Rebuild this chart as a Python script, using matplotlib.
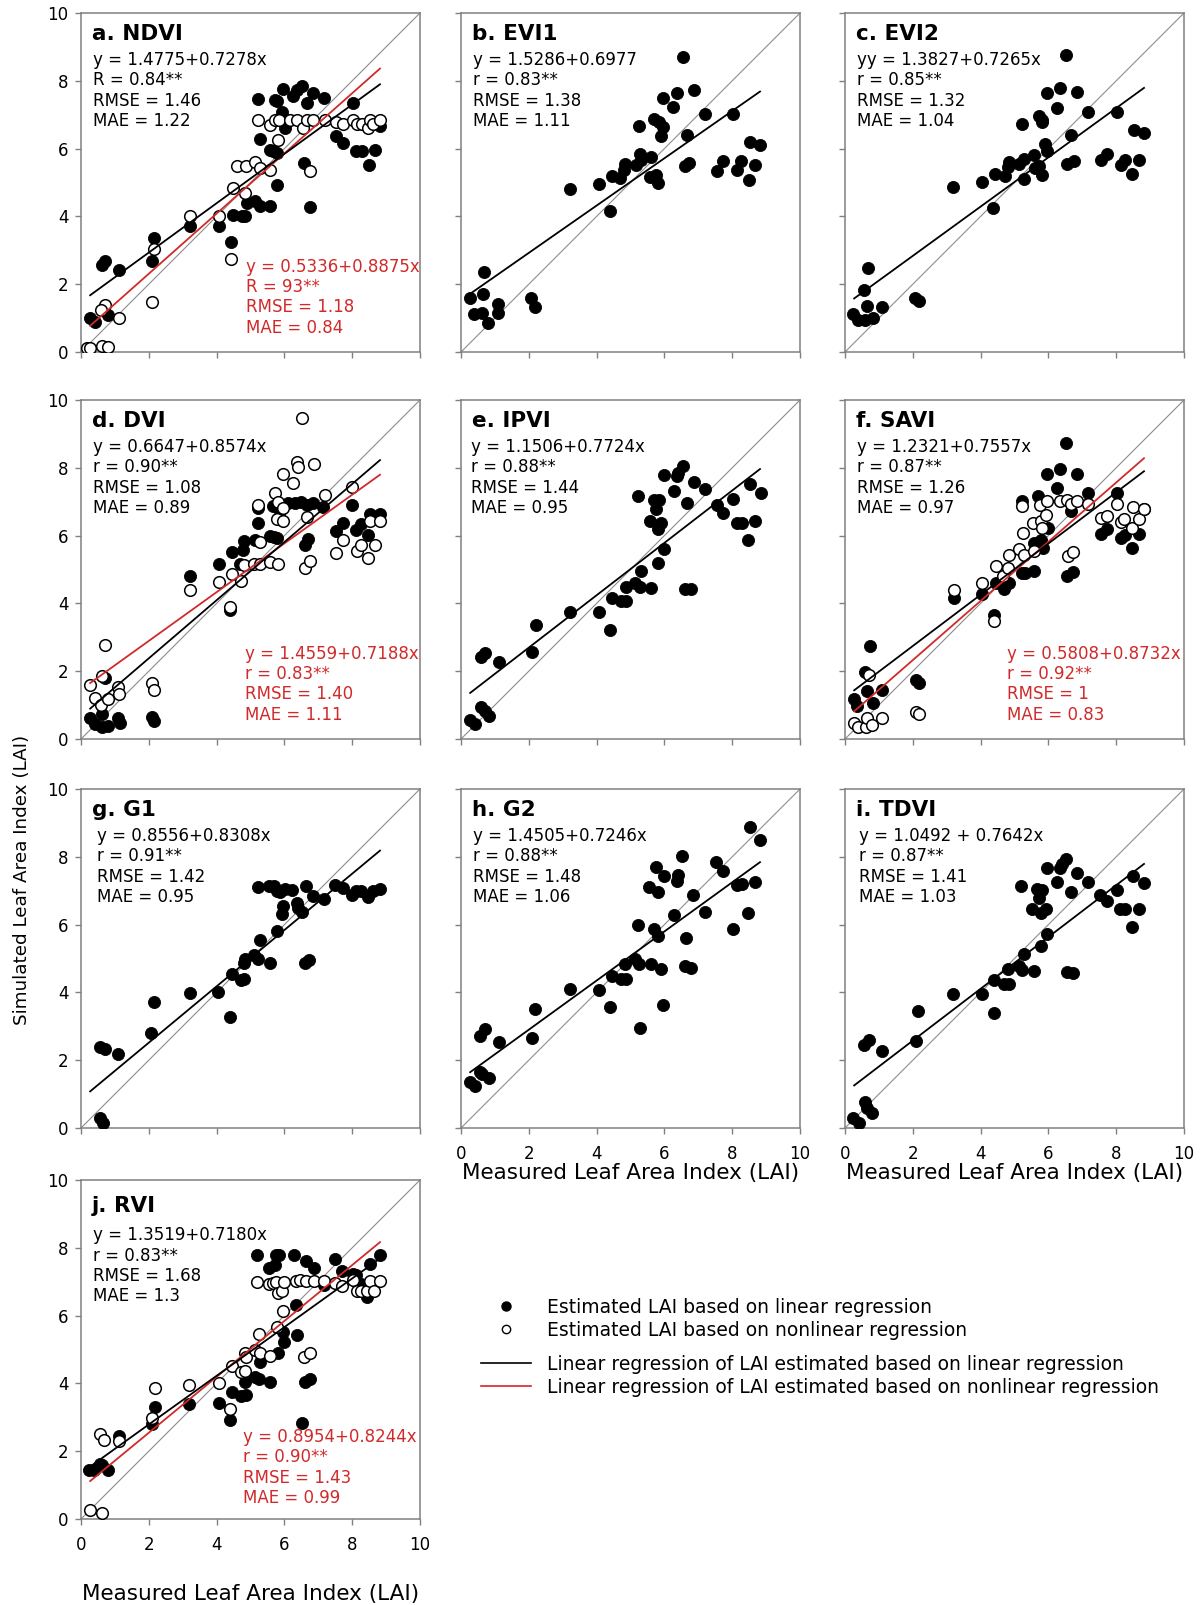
import numpy as np
import matplotlib.pyplot as plt
from matplotlib.lines import Line2D

plt.rcParams['font.family'] = 'DejaVu Sans'

# panel titles and regression statistics
titles = ['a. NDVI', 'b. EVI1', 'c. EVI2', 'd. DVI', 'e. IPVI', 'f. SAVI',
          'g. G1', 'h. G2', 'i. TDVI', 'j. RVI']

lin_icpt = [1.4775, 1.5286, 1.3827, 0.6647, 1.1506, 1.2321, 0.8556, 1.4505, 1.0492, 1.3519]
lin_slope = [0.7278, 0.6977, 0.7265, 0.8574, 0.7724, 0.7557, 0.8308, 0.7246, 0.7642, 0.7180]
lin_text = [
    ['y = 1.4775+0.7278x', 'R = 0.84**', 'RMSE = 1.46', 'MAE = 1.22'],
    ['y = 1.5286+0.6977', 'r = 0.83**', 'RMSE = 1.38', 'MAE = 1.11'],
    ['yy = 1.3827+0.7265x', 'r = 0.85**', 'RMSE = 1.32', 'MAE = 1.04'],
    ['y = 0.6647+0.8574x', 'r = 0.90**', 'RMSE = 1.08', 'MAE = 0.89'],
    ['y = 1.1506+0.7724x', 'r = 0.88**', 'RMSE = 1.44', 'MAE = 0.95'],
    ['y = 1.2321+0.7557x', 'r = 0.87**', 'RMSE = 1.26', 'MAE = 0.97'],
    ['y = 0.8556+0.8308x', 'r = 0.91**', 'RMSE = 1.42', 'MAE = 0.95'],
    ['y = 1.4505+0.7246x', 'r = 0.88**', 'RMSE = 1.48', 'MAE = 1.06'],
    ['y = 1.0492 + 0.7642x', 'r = 0.87**', 'RMSE = 1.41', 'MAE = 1.03'],
    ['y = 1.3519+0.7180x', 'r = 0.83**', 'RMSE = 1.68', 'MAE = 1.3'],
]
# nonlinear (red) regressions only for a, d, f, j
nl_icpt = {0: 0.5336, 3: 1.4559, 5: 0.5808, 9: 0.8954}
nl_slope = {0: 0.8875, 3: 0.7188, 5: 0.8732, 9: 0.8244}
nl_text = {
    0: ['y = 0.5336+0.8875x', 'R = 93**', 'RMSE = 1.18', 'MAE = 0.84'],
    3: ['y = 1.4559+0.7188x', 'r = 0.83**', 'RMSE = 1.40', 'MAE = 1.11'],
    5: ['y = 0.5808+0.8732x', 'r = 0.92**', 'RMSE = 1', 'MAE = 0.83'],
    9: ['y = 0.8954+0.8244x', 'r = 0.90**', 'RMSE = 1.43', 'MAE = 0.99'],
}
fit_range = [0.27, 8.82]

# (measured, simulated) pairs
ndvi_lin = [(0.27,1.00),(0.41,0.88),(0.61,2.58),(0.71,2.67),(0.81,1.10),(1.12,2.41),(2.08,2.67),(2.16,3.36),
            (3.21,3.71),(4.06,3.71),(4.42,3.24),(4.47,4.05),(4.74,4.00),(4.84,4.00),(4.89,4.40),(5.14,4.44),
            (5.28,4.32),(5.57,4.30),(5.23,7.46),(5.28,6.28),(5.57,5.97),(5.67,5.92),(5.72,7.44),(5.79,7.39),
            (5.79,4.94),(5.97,7.76),(5.92,7.07),(6.02,6.61),(5.77,5.87),(6.24,7.54),(6.36,7.74),(6.51,7.86),
            (6.59,5.58),(6.76,4.28),(6.66,7.35),(6.85,7.64),(7.17,7.49),(7.52,6.36),(7.74,6.17),(8.02,7.35),
            (8.11,5.92),(8.28,5.92),(8.51,5.51),(8.67,5.97),(8.82,6.66)]
ndvi_nl = [(0.17,0.12),(0.27,0.12),(0.61,0.17),(0.81,0.15),(0.71,1.40),(0.59,1.25),(1.12,1.00),(2.08,1.47),
           (2.16,3.04),(3.21,4.02),(4.06,4.02),(4.42,2.74),(4.47,4.84),(4.84,4.69),(4.59,5.48),(4.87,5.48),
           (5.14,5.60),(5.28,5.43),(5.57,5.38),(5.82,6.24),(5.23,6.83),(5.57,6.71),(5.72,6.83),(5.85,6.83),
           (6.17,6.85),(6.36,6.85),(6.56,6.61),(6.66,6.83),(6.76,5.35),(6.85,6.83),(7.20,6.83),(7.52,6.77),
           (7.74,6.74),(8.01,6.85),(8.13,6.74),(8.28,6.74),(8.48,6.61),(8.53,6.85),(8.62,6.74),(8.82,6.83)]
evi1_lin = [(0.27,1.60),(0.39,1.11),(0.61,1.16),(0.66,1.70),(0.69,2.37),(0.81,0.86),(1.08,1.42),(1.10,1.14),
            (2.06,1.60),(2.17,1.34),(3.22,4.81),(4.06,4.96),(4.41,4.17),(4.46,5.18),(4.70,5.13),(4.80,5.36),
            (4.85,5.55),(5.15,5.52),(5.25,6.66),(5.28,5.85),(5.30,5.65),(5.60,5.75),(5.57,5.16),(5.74,5.21),
            (5.81,4.98),(5.69,6.87),(5.84,6.79),(5.97,6.64),(5.91,6.36),(5.97,7.50),(6.26,7.23),(6.36,7.65),
            (6.55,8.70),(6.68,6.41),(6.61,5.48),(6.73,5.58),(6.87,7.73),(7.19,7.02),(7.54,5.34),(7.74,5.63),
            (8.03,7.02),(8.13,5.38),(8.25,5.63),(8.50,5.08),(8.53,6.20),(8.67,5.53),(8.83,6.10)]
evi2_lin = [(0.25,1.13),(0.37,0.94),(0.59,0.94),(0.64,1.36),(0.57,1.82),(0.69,2.48),(0.82,1.00),(1.08,1.33),
            (2.07,1.60),(2.17,1.50),(3.20,4.88),(4.04,5.02),(4.38,4.26),(4.43,5.25),(4.71,5.19),(4.83,5.60),
            (4.81,5.45),(5.12,5.55),(5.22,6.72),(5.27,5.69),(5.29,5.09),(5.57,5.81),(5.60,5.42),(5.73,5.49),
            (5.81,5.22),(5.71,6.95),(5.81,6.85),(5.81,6.77),(5.91,6.13),(5.96,5.93),(5.96,7.64),(6.24,7.21),
            (6.35,7.80),(6.52,8.75),(6.67,6.40),(6.55,5.55),(6.75,5.64),(6.85,7.68),(7.17,7.07),(7.54,5.65),
            (7.73,5.84),(8.01,7.09),(8.13,5.52),(8.25,5.67),(8.47,5.24),(8.52,6.55),(8.67,5.65),(8.82,6.45)]
dvi_lin = [(0.27,0.62),(0.41,0.44),(0.61,0.34),(0.61,0.74),(0.71,1.79),(0.81,0.39),(1.10,0.61),(1.15,0.46),
           (2.08,0.64),(2.16,0.54),(3.22,4.81),(4.06,5.15),(4.40,3.82),(4.44,5.52),(4.77,5.57),(4.81,5.84),
           (4.69,5.15),(5.13,5.86),(5.23,6.38),(5.23,6.80),(5.58,5.99),(5.67,6.88),(5.79,5.93),(5.87,6.72),
           (6.10,6.95),(6.31,6.95),(6.48,7.00),(6.66,6.90),(6.71,5.89),(6.61,5.71),(6.85,6.95),(7.15,6.85),
           (7.52,6.14),(7.72,6.38),(8.00,6.90),(8.11,6.16),(8.26,6.33),(8.46,6.01),(8.53,6.65),(8.82,6.65),
           (5.70,5.95)]
dvi_nl = [(0.27,1.58),(0.41,1.20),(0.58,1.00),(0.61,1.87),(0.71,2.78),(0.81,1.18),(1.10,1.53),(1.13,1.33),
          (2.08,1.65),(2.16,1.46),(3.22,4.41),(4.06,4.63),(4.40,3.89),(4.46,4.88),(4.72,4.65),(4.81,5.12),
          (5.11,5.17),(5.23,6.90),(5.28,5.81),(5.28,5.15),(5.58,5.22),(5.71,7.26),(5.82,6.98),(5.79,6.50),
          (5.80,5.17),(5.95,6.42),(5.97,7.83),(5.97,6.80),(6.24,7.56),(6.36,8.18),(6.39,8.03),(6.51,9.48),
          (6.61,5.04),(6.66,6.55),(6.76,5.25),(6.87,8.10),(7.20,7.21),(7.52,5.50),(7.74,5.86),(8.00,7.44),
          (8.13,5.55),(8.26,5.71),(8.48,5.34),(8.53,6.42),(8.67,5.71),(8.82,6.42)]
ipvi_lin = [(0.28,0.56),(0.42,0.44),(0.60,0.94),(0.70,0.84),(0.82,0.68),(0.60,2.41),(0.72,2.53),(1.11,2.26),
            (2.10,2.56),(2.20,3.35),(3.23,3.76),(4.07,3.76),(4.41,3.22),(4.46,4.16),(4.71,4.06),(4.86,4.06),
            (4.86,4.47),(5.13,4.60),(5.28,4.48),(5.60,4.45),(5.30,4.95),(5.23,7.16),(5.69,7.06),(5.84,7.04),
            (5.74,6.77),(5.58,6.42),(5.89,6.37),(5.82,6.20),(5.82,5.19),(5.99,5.59),(5.99,7.80),(6.29,7.31),
            (6.36,7.75),(6.41,7.85),(6.55,8.05),(6.68,6.95),(6.61,4.43),(6.78,4.43),(6.88,7.58),(7.19,7.36),
            (7.55,6.89),(7.74,6.67),(8.03,7.09),(8.14,6.37),(8.29,6.37),(8.48,5.88),(8.52,7.51),(8.68,6.42),
            (8.85,7.26)]
savi_lin = [(0.27,1.18),(0.36,0.96),(0.64,1.43),(0.58,1.99),(0.74,2.73),(0.84,1.05),(1.10,1.45),(2.08,1.74),
            (2.18,1.65),(3.22,4.16),(4.05,4.29),(4.40,3.67),(4.44,4.60),(4.69,4.43),(4.84,4.60),(5.21,7.01),
            (5.23,4.90),(5.30,4.90),(5.58,4.95),(5.58,5.78),(5.69,7.18),(5.77,5.88),(5.85,5.64),(5.95,7.82),
            (5.99,6.23),(6.24,7.41),(6.34,7.95),(6.53,8.72),(6.56,4.82),(6.74,4.92),(6.66,6.72),(6.85,7.82),
            (7.18,7.26),(7.54,6.06),(7.74,6.20),(8.01,7.26),(8.13,5.93),(8.26,6.03),(8.48,5.62),(8.67,6.05),
            (8.82,6.79)]
savi_nl = [(0.27,0.48),(0.39,0.36),(0.61,0.36),(0.66,0.63),(0.71,1.89),(0.81,0.41),(1.10,0.63),(2.08,0.81),
           (2.18,0.74),(3.22,4.40),(4.05,4.60),(4.40,3.47),(4.44,5.09),(4.67,4.82),(4.82,5.04),(4.84,5.44),
           (5.13,5.59),(5.25,6.08),(5.21,6.87),(5.28,5.44),(5.58,5.54),(5.56,6.37),(5.75,6.89),(5.77,6.42),
           (5.82,6.23),(5.92,6.62),(5.97,7.01),(6.34,7.01),(6.54,7.06),(6.58,5.39),(6.74,5.52),(6.66,6.92),
           (6.85,7.01),(7.18,6.92),(7.54,6.52),(7.74,6.59),(8.01,6.92),(8.13,6.39),(8.23,6.49),(8.48,6.23),
           (8.51,6.85),(8.67,6.49),(8.82,6.79)]
g1_lin = [(0.56,0.30),(0.64,0.15),(0.56,2.39),(0.71,2.33),(1.08,2.17),(2.06,2.81),(2.16,3.72),(3.22,3.99),
          (4.05,4.02),(4.40,3.28),(4.44,4.53),(4.72,4.36),(4.82,4.41),(4.82,4.86),(4.84,4.98),(5.11,5.09),
          (5.23,4.98),(5.28,5.54),(5.58,4.88),(5.21,7.11),(5.56,7.14),(5.70,7.14),(5.79,7.00),(5.87,6.95),
          (5.77,5.81),(5.95,6.55),(5.92,6.31),(6.21,7.02),(6.36,6.63),(6.41,6.50),(6.51,6.37),(6.61,4.86),
          (6.74,4.96),(6.64,7.14),(6.85,6.85),(7.17,6.75),(7.49,7.16),(7.74,7.09),(8.00,6.87),(8.11,7.00),
          (8.25,7.00),(8.48,6.80),(8.62,7.00),(8.82,7.04),(6.02,7.04)]
g2_lin = [(0.28,1.35),(0.40,1.25),(0.57,1.65),(0.62,1.58),(0.82,1.48),(0.57,2.71),(0.72,2.91),(1.11,2.53),
          (2.10,2.66),(2.18,3.52),(3.21,4.09),(4.07,4.07),(4.41,3.57),(4.46,4.48),(4.71,4.40),(4.86,4.41),
          (4.84,4.83),(5.13,5.00),(5.25,4.83),(5.28,2.94),(5.60,4.83),(5.23,5.99),(5.55,7.11),(5.69,5.86),
          (5.82,5.67),(5.74,7.71),(5.82,6.97),(5.89,4.68),(5.99,7.44),(5.97,3.62),(6.29,6.28),(6.36,7.29),
          (6.41,7.47),(6.53,8.03),(6.65,5.60),(6.61,4.78),(6.78,4.73),(6.85,6.88),(7.19,6.37),(7.52,7.85),
          (7.74,7.57),(8.03,5.86),(8.14,7.16),(8.29,7.19),(8.48,6.35),(8.52,8.89),(8.68,7.26),(8.83,8.49)]
tdvi_lin = [(0.25,0.30),(0.41,0.15),(0.59,0.76),(0.66,0.59),(0.81,0.44),(0.56,2.46),(0.71,2.61),(1.10,2.27),
            (2.08,2.56),(2.16,3.45),(3.20,3.96),(4.03,3.96),(4.40,3.38),(4.41,4.36),(4.69,4.26),(4.84,4.26),
            (4.81,4.68),(5.13,4.78),(5.23,4.65),(5.28,5.12),(5.58,4.63),(5.20,7.14),(5.53,6.45),(5.67,7.04),
            (5.82,7.02),(5.72,6.77),(5.77,6.33),(5.92,6.45),(5.77,5.37),(5.95,5.71),(5.95,7.68),(6.24,7.26),
            (6.34,7.68),(6.39,7.78),(6.53,7.93),(6.66,6.95),(6.56,4.60),(6.74,4.58),(6.85,7.51),(7.18,7.26),
            (7.52,6.88),(7.74,6.70),(8.01,7.01),(8.11,6.45),(8.25,6.45),(8.46,5.93),(8.51,7.44),(8.67,6.47),
            (8.82,7.22)]
rvi_lin = [(0.23,1.44),(0.37,1.44),(0.57,1.63),(0.62,1.59),(0.80,1.46),(1.11,2.44),(2.10,2.81),(2.17,3.30),
           (3.20,3.38),(4.07,3.42),(4.39,2.93),(4.44,3.76),(4.71,3.64),(4.86,3.66),(4.84,4.03),(5.13,4.20),
           (5.25,4.13),(5.28,4.64),(5.58,4.03),(5.20,7.78),(5.55,7.39),(5.72,7.50),(5.74,7.78),(5.84,7.78),
           (5.82,4.89),(5.99,5.21),(5.97,5.52),(6.27,7.78),(6.33,6.31),(6.38,5.43),(6.53,2.84),(6.60,4.03),
           (6.75,4.13),(6.63,7.62),(6.86,7.39),(7.17,6.90),(7.50,7.68),(7.71,7.31),(8.01,7.23),(8.11,7.21),
           (8.26,6.94),(8.45,6.55),(8.52,7.52),(8.82,7.78)]
rvi_nl = [(0.28,0.26),(0.62,0.19),(0.57,2.50),(0.69,2.34),(1.11,2.29),(2.10,2.98),(2.17,3.87),(3.20,3.95),
          (4.07,4.00),(4.39,3.25),(4.44,4.50),(4.71,4.35),(4.84,4.37),(4.84,4.89),(4.86,4.77),(5.13,4.98),
          (5.25,5.45),(5.28,4.91),(5.58,4.81),(5.20,7.00),(5.55,6.92),(5.65,6.97),(5.76,7.00),(5.82,6.67),
          (5.92,6.74),(5.79,5.65),(5.96,6.13),(5.99,7.00),(6.33,7.02),(6.46,7.04),(6.58,4.78),(6.75,4.91),
          (6.63,7.02),(6.86,7.02),(7.17,7.02),(7.50,6.97),(7.71,6.87),(8.01,7.06),(8.13,6.74),(8.26,6.74),
          (8.45,6.74),(8.52,7.02),(8.65,6.74),(8.82,7.02)]

lin_data = [ndvi_lin, evi1_lin, evi2_lin, dvi_lin, ipvi_lin, savi_lin, g1_lin, g2_lin, tdvi_lin, rvi_lin]
nl_data = {0: ndvi_nl, 3: dvi_nl, 5: savi_nl, 9: rvi_nl}

RED = '#d02a2a'
GREY = '#808080'

fig = plt.figure(figsize=(12.02, 16.05), dpi=100)
W, H = 1202.0, 1605.0
col_left = [81, 461, 845]
row_top = [13, 400, 789, 1180]
size = 339

stats_x = [0.36, 0.34, 0.36, 0.36, 0.30, 0.34, 0.46, 0.35, 0.41, 0.35]
red_x = {0: 4.86, 3: 4.85, 5: 4.78, 9: 4.78}

xl = np.array(fit_range)
for i in range(10):
    r, c = divmod(i, 3)
    ax = fig.add_axes([col_left[c] / W, 1 - (row_top[r] + size) / H, size / W, size / H])
    ax.set_xlim(0, 10)
    ax.set_ylim(0, 10)
    ax.plot([0, 10], [0, 10], color='#8c8c8c', lw=0.8, zorder=1)

    pts = np.array(lin_data[i])
    ax.scatter(pts[:, 0], pts[:, 1], s=76, c='black', edgecolors='black', linewidths=0.6, zorder=3)
    if i in nl_data:
        op = np.array(nl_data[i])
        ax.scatter(op[:, 0], op[:, 1], s=70, facecolors='white', edgecolors='black', linewidths=1.1, zorder=4)
        ax.plot(xl, nl_icpt[i] + nl_slope[i] * xl, color=RED, lw=1.3, zorder=5)
    ax.plot(xl, lin_icpt[i] + lin_slope[i] * xl, color='black', lw=1.3, zorder=5)

    # text blocks (baselines in data units)
    if i == 9:
        ty, sy, ry = 9.06, [8.22, 7.62, 7.02, 6.42], [2.27, 1.67, 1.07, 0.47]
    else:
        ty, sy, ry = 9.21, [8.47, 7.87, 7.27, 6.67], [2.37, 1.77, 1.17, 0.57]
    ax.text(0.33, ty, titles[i], fontsize=15.5, fontweight='bold', va='baseline', ha='left')
    for k in range(4):
        ax.text(stats_x[i], sy[k], lin_text[i][k], fontsize=12, va='baseline', ha='left')
    if i in nl_text:
        for k in range(4):
            ax.text(red_x[i], ry[k], nl_text[i][k], fontsize=12, va='baseline', ha='left', color=RED)

    ax.set_xticks(range(0, 11, 2))
    ax.set_yticks(range(0, 11, 2))
    for sp in ax.spines.values():
        sp.set_color(GREY)
        sp.set_linewidth(1.1)
    ax.tick_params(axis='both', direction='out', length=4, width=1, color=GREY, labelsize=12)
    ax.tick_params(axis='y', pad=5)
    ax.tick_params(axis='x', pad=8)
    if c != 0:
        ax.tick_params(axis='y', labelleft=False)
    if i not in (7, 8, 9):
        ax.tick_params(axis='x', labelbottom=False)
    if i in (7, 8):
        ax.set_xlabel('Measured Leaf Area Index (LAI)', fontsize=15.5, labelpad=0)
    if i == 9:
        ax.set_xlabel('Measured Leaf Area Index (LAI)', fontsize=15.5, labelpad=22)

fig.text(22 / W, 1 - 880 / H, 'Simulated Leaf Area Index (LAI)', rotation=90,
         fontsize=13.2, ha='center', va='center')

# legend: marker entries and line entries as two stacked groups
pt_handles = [
    Line2D([], [], ls='none', marker='o', ms=6.5, mfc='black', mec='black'),
    Line2D([], [], ls='none', marker='o', ms=6, mfc='white', mec='black', mew=1),
]
pt_labels = ['Estimated LAI based on linear regression',
             'Estimated LAI based on nonlinear regression']
ln_handles = [Line2D([], [], color='black', lw=1.2), Line2D([], [], color=RED, lw=1.2)]
ln_labels = ['Linear regression of LAI estimated based on linear regression',
             'Linear regression of LAI estimated based on nonlinear regression']
leg_kw = dict(loc='upper left', frameon=False, fontsize=13.5, handlelength=2.65, handletextpad=0.85,
              labelspacing=0.2, borderpad=0, borderaxespad=0)
fig.legend(pt_handles, pt_labels, bbox_to_anchor=(481 / W, 1 - 1298 / H), **leg_kw)
fig.legend(ln_handles, ln_labels, bbox_to_anchor=(481 / W, 1 - 1355 / H), **leg_kw)

fig.savefig('out.png', dpi=100)
